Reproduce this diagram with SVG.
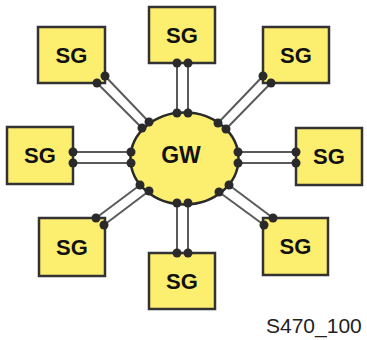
<svg xmlns="http://www.w3.org/2000/svg" width="367" height="340" viewBox="0 0 367 340">
<style>
.box{fill:#fcee6f;stroke:#333;stroke-width:2.5}
.gw{fill:#fcee6f;stroke:#2a2a2a;stroke-width:2.5}
.t{font-family:"Liberation Sans",Arial,sans-serif;font-weight:bold;font-size:22px;fill:#111;text-anchor:middle}
.w{stroke:#5a5a5a;stroke-width:2;fill:none}
.d{fill:#2a2a2a}
.lbl{font-family:"Liberation Sans",Arial,sans-serif;font-size:21px;fill:#222}
</style>
<rect width="367" height="340" fill="#fff"/>
<g id="connectors">
<line class="w" x1="177" y1="63" x2="177" y2="113"/><line class="w" x1="188" y1="63" x2="188" y2="113"/>
<line class="w" x1="177" y1="203" x2="177" y2="253"/><line class="w" x1="188" y1="203" x2="188" y2="253"/>
<line class="w" x1="73" y1="152" x2="131" y2="152"/><line class="w" x1="73" y1="163" x2="131" y2="163"/>
<line class="w" x1="238" y1="152" x2="296" y2="152"/><line class="w" x1="238" y1="163" x2="296" y2="163"/>
<line class="w" x1="105" y1="76" x2="149" y2="122"/><line class="w" x1="97" y1="83" x2="142" y2="128"/>
<line class="w" x1="263" y1="76" x2="218" y2="123"/><line class="w" x1="271" y1="83" x2="226" y2="129"/>
<line class="w" x1="96" y1="218" x2="140" y2="185"/><line class="w" x1="104" y1="225" x2="149" y2="191"/>
<line class="w" x1="273" y1="218" x2="229" y2="185"/><line class="w" x1="264" y1="225" x2="219" y2="192"/>
</g>
<g id="SG-tl"><rect class="box" x="38" y="27" width="67" height="56"/><text class="t" x="71.5" y="63">SG</text></g>
<g id="SG-t"><rect class="box" x="149" y="7" width="66" height="56"/><text class="t" x="182" y="43">SG</text></g>
<g id="SG-tr"><rect class="box" x="263" y="27" width="66" height="56"/><text class="t" x="296" y="63">SG</text></g>
<g id="SG-l"><rect class="box" x="7" y="127" width="66" height="57"/><text class="t" x="40" y="163">SG</text></g>
<g id="SG-r"><rect class="box" x="296" y="128" width="66" height="57"/><text class="t" x="329" y="164">SG</text></g>
<g id="SG-bl"><rect class="box" x="39" y="218" width="66" height="58"/><text class="t" x="72" y="255">SG</text></g>
<g id="SG-b"><rect class="box" x="149" y="253" width="66" height="56"/><text class="t" x="182" y="289">SG</text></g>
<g id="SG-br"><rect class="box" x="263" y="218" width="65" height="57"/><text class="t" x="295.5" y="254">SG</text></g>
<g id="GW"><ellipse class="gw" cx="184.5" cy="158.5" rx="54" ry="46"/><text class="t" x="181" y="163" style="font-size:23px">GW</text></g>
<g id="dots">
<circle class="d" cx="177" cy="63" r="4.5"/><circle class="d" cx="188" cy="63" r="4.5"/><circle class="d" cx="177" cy="113" r="4.5"/><circle class="d" cx="188" cy="113" r="4.5"/>
<circle class="d" cx="177" cy="203" r="4.5"/><circle class="d" cx="188" cy="203" r="4.5"/><circle class="d" cx="177" cy="253" r="4.5"/><circle class="d" cx="188" cy="253" r="4.5"/>
<circle class="d" cx="73" cy="152" r="4.5"/><circle class="d" cx="73" cy="163" r="4.5"/><circle class="d" cx="131" cy="152" r="4.5"/><circle class="d" cx="131" cy="163" r="4.5"/>
<circle class="d" cx="238" cy="152" r="4.5"/><circle class="d" cx="238" cy="163" r="4.5"/><circle class="d" cx="296" cy="152" r="4.5"/><circle class="d" cx="296" cy="163" r="4.5"/>
<circle class="d" cx="105" cy="76" r="4.5"/><circle class="d" cx="97" cy="83" r="4.5"/><circle class="d" cx="149" cy="122" r="4.5"/><circle class="d" cx="142" cy="128" r="4.5"/>
<circle class="d" cx="263" cy="76" r="4.5"/><circle class="d" cx="271" cy="83" r="4.5"/><circle class="d" cx="218" cy="123" r="4.5"/><circle class="d" cx="226" cy="129" r="4.5"/>
<circle class="d" cx="96" cy="218" r="4.5"/><circle class="d" cx="104" cy="225" r="4.5"/><circle class="d" cx="140" cy="185" r="4.5"/><circle class="d" cx="149" cy="191" r="4.5"/>
<circle class="d" cx="273" cy="218" r="4.5"/><circle class="d" cx="264" cy="225" r="4.5"/><circle class="d" cx="229" cy="185" r="4.5"/><circle class="d" cx="219" cy="192" r="4.5"/>
</g>
<text class="lbl" x="266" y="333">S470_100</text>
</svg>
